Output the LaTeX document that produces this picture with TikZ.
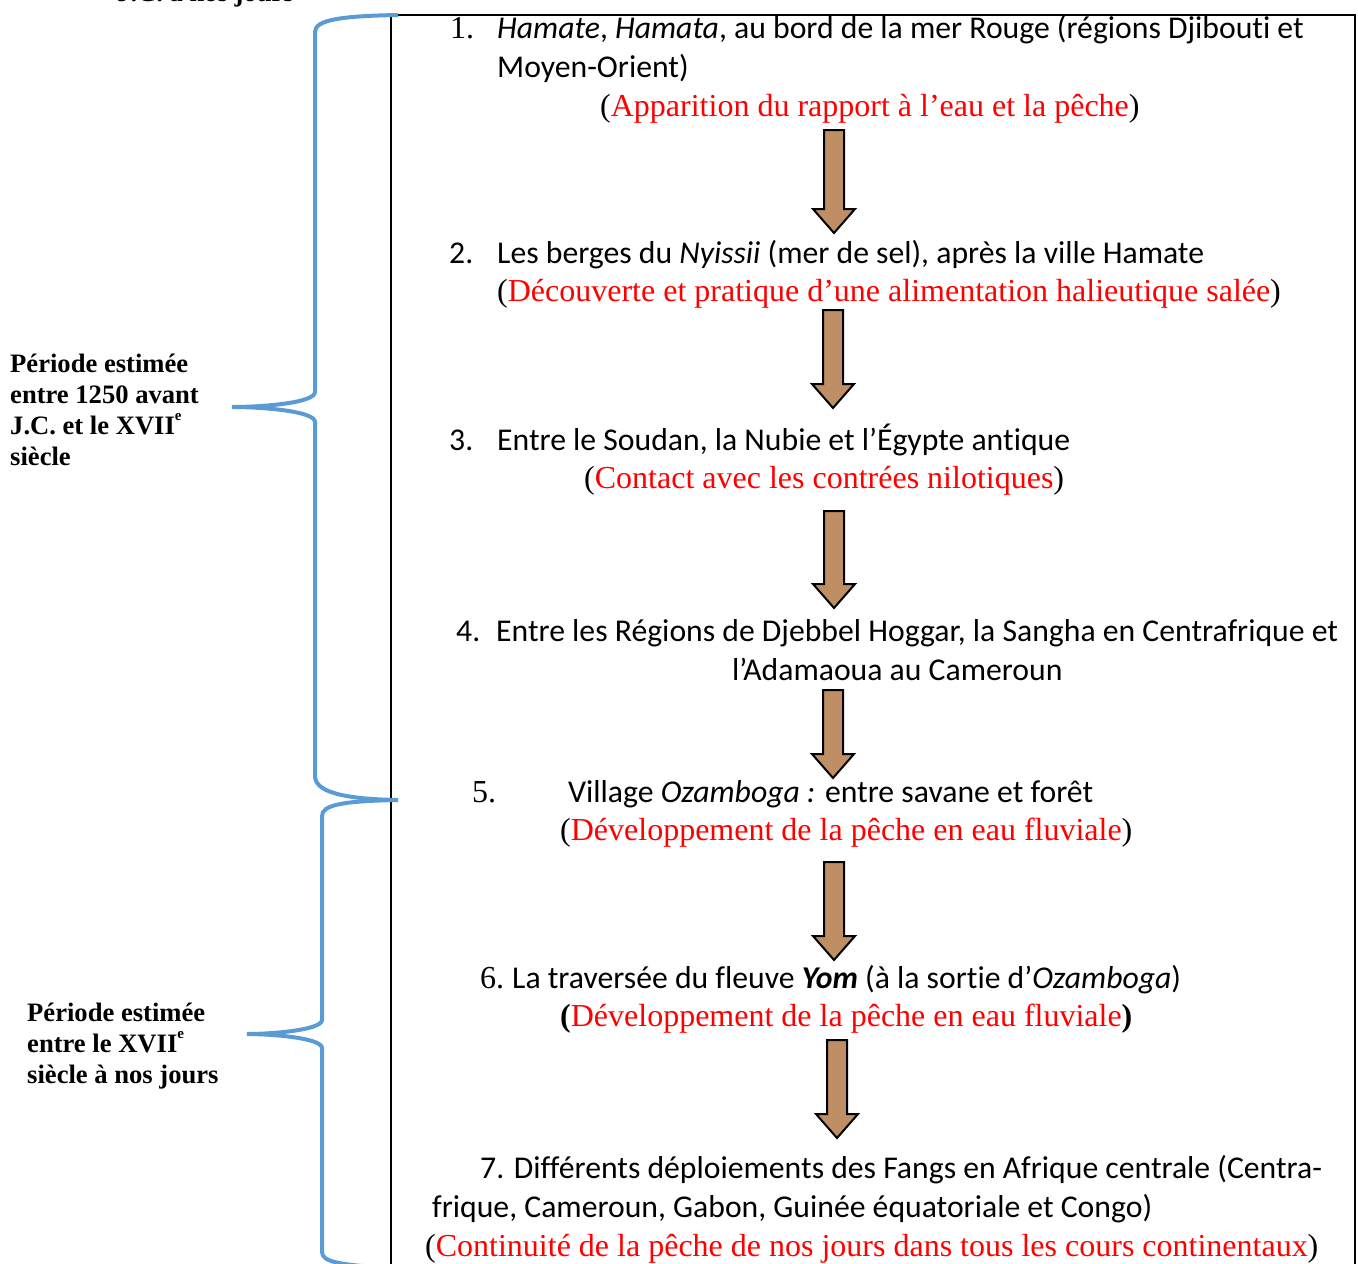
\documentclass[tikz,border=0pt]{standalone}
\usepackage{fontspec}
\setmainfont{Liberation Serif}
\newfontfamily\calib[Ligatures=NoCommon]{Carlito}
\definecolor{braceblue}{RGB}{91,155,213}
\definecolor{cork}{RGB}{192,142,100}
\tikzset{
  x=1pt,y=-1pt,
  txt/.style={anchor=base west,inner sep=0pt,font=\calib\fontsize{31.7}{36}\selectfont},
  tms/.style={anchor=base west,inner sep=0pt,font=\fontsize{32}{36}\selectfont},
  red/.style={anchor=base west,inner sep=0pt,font=\fontsize{32}{36}\selectfont},
  lab/.style={anchor=base west,inner sep=0pt,font=\bfseries\fontsize{26.6}{31}\selectfont},
  bracestyle/.style={draw=braceblue,line width=4pt},
  boxline/.style={draw=black,line width=2pt},
  blockarrow/.style={fill=cork,draw=black,line width=2pt,line join=miter}
}
\newcommand{\barrow}[3]{%
  \draw[blockarrow] (#1-10,#2) -- (#1+10,#2) -- (#1+10,#3-24) -- (#1+21,#3-24) -- (#1,#3) -- (#1-21,#3-24) -- (#1-10,#3-24) -- cycle;}
\begin{document}
\begin{tikzpicture}
\useasboundingbox (0,0) rectangle (1358,1264);
\clip (0,0) rectangle (1358,1264);
% cut top label
\node[lab] (top) at (117,1) {J.C. à nos jours};
% box
\draw[boxline] (391,1270) -- (391,15) -- (1355,15) -- (1355,1270);
% braces
\draw[bracestyle] (398,15) .. controls (340,16) and (315,20) .. (315,32) -- (315,392) .. controls (315,403) and (262,407) .. (232,407) .. controls (262,407) and (315,411) .. (315,422) -- (315,776) .. controls (315,791) and (340,799) .. (398,800);
\draw[bracestyle] (398,800) .. controls (342,801) and (322,805) .. (322,816) -- (322,1020) .. controls (322,1030) and (272,1034) .. (247,1034) .. controls (272,1034) and (322,1038) .. (322,1048) -- (322,1252) .. controls (322,1262) and (340,1265) .. (390,1268);
% left labels
\node[lab] (l1a) at (10,372) {Période estimée};
\node[lab] (l1b) at (10,403) {entre 1250 avant};
\node[lab] (l1c) at (10,434) {J.C. et le XVII\raisebox{0.5em}{\fontsize{15}{15}\selectfont e}};
\node[lab] (l1d) at (10,465) {siècle};
\node[lab] (l2a) at (27,1021) {Période estimée};
\node[lab] (l2b) at (27,1052) {entre le XVII\raisebox{0.5em}{\fontsize{15}{15}\selectfont e}};
\node[lab] (l2c) at (27,1083) {siècle à nos jours};
% item 1
\node[tms] (n1) at (450,38) {1.};
\node[txt] (t1a) at (497,38) {\itshape Hamate\upshape, \itshape Hamata\upshape, au bord de la mer Rouge (régions Djibouti et};
\node[txt] (t1b) at (497,77) {Moyen-Orient)};
\node[red] (r1) at (600,116) {(\textcolor{red}{Apparition du rapport à l’eau et la pêche})};
% item 2
\node[txt] (n2) at (449,263) {2.};
\node[txt] (t2) at (497,263) {Les berges du \textit{Nyissii} (mer de sel), après la ville Hamate};
\node[red] (r2) at (497,301) {(\textcolor{red}{Découverte et pratique d’une alimentation halieutique salée})};
% item 3
\node[txt] (n3) at (449,450) {3.};
\node[txt] (t3) at (497,450) {Entre le Soudan, la Nubie et l’Égypte antique};
\node[red] (r3) at (584,488) {(\textcolor{red}{Contact avec les contrées nilotiques})};
% item 4
\node[txt] (n4) at (456,641) {4.};
\node[txt] (t4a) at (496,641) {Entre les Régions de Djebbel Hoggar, la Sangha en Centrafrique et};
\node[txt] (t4b) at (732,680) {l’Adamaoua au Cameroun};
% item 5
\node[tms] (n5) at (472,802) {5.};
\node[txt] (t5) at (568,802) {Village \textit{Ozamboga :} entre savane et forêt};
\node[red] (r5) at (560,840) {(\textcolor{red}{Développement de la pêche en eau fluviale})};
% item 6
\node[tms] (n6) at (480,988) {6.};
\node[txt] (t6) at (512,988) {La traversée du fleuve \textbf{\textit{Yom}} (à la sortie d’\textit{Ozamboga})};
\node[red] (r6) at (560,1026) {\textbf{(}\textcolor{red}{Développement de la pêche en eau fluviale}\textbf{)}};
% item 7
\node[txt] (t7a) at (480,1178) {7. Différents déploiements des Fangs en Afrique centrale (Centra-};
\node[txt] (t7b) at (432,1217) {frique, Cameroun, Gabon, Guinée équatoriale et Congo)};
\node[red] (r7) at (425,1256) {(\textcolor{red}{Continuité de la pêche de nos jours dans tous les cours continentaux})};
% arrows
\barrow{834}{130}{233}
\barrow{833}{310}{408}
\barrow{834}{511}{608}
\barrow{833}{690}{778}
\barrow{834}{862}{960}
\barrow{837}{1040}{1138}
\end{tikzpicture}
\end{document}
